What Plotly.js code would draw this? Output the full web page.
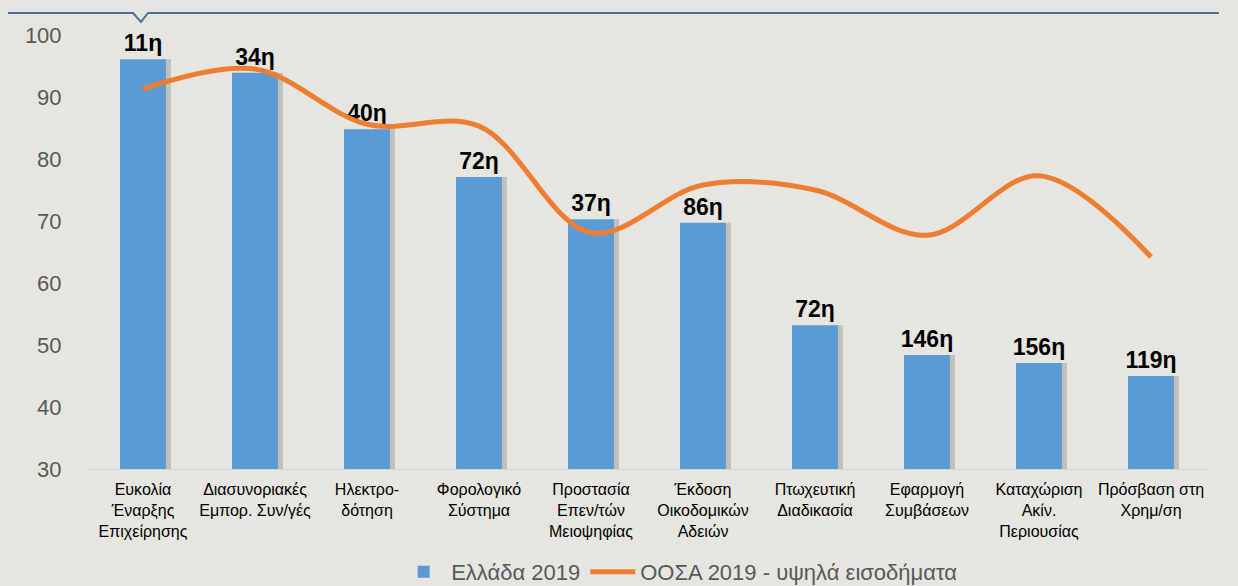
<!DOCTYPE html>
<html>
<head>
<meta charset="utf-8">
<script src="https://cdn.plot.ly/plotly-3.0.1.min.js"></script>
<style>
html,body{margin:0;padding:0;background:#E6E5E0;}
#chart{width:1238px;height:586px;}
</style>
</head>
<body>
<div id="chart"></div>
<script>
const categories = [
  "Ευκολία<br>Έναρξης<br>Επιχείρησης",
  "Διασυνοριακές<br>Εμπορ. Συν/γές",
  "Ηλεκτρο-<br>δότηση",
  "Φορολογικό<br>Σύστημα",
  "Προστασία<br>Επεν/τών<br>Μειοψηφίας",
  "Έκδοση<br>Οικοδομικών<br>Αδειών",
  "Πτωχευτική<br>Διαδικασία",
  "Εφαρμογή<br>Συμβάσεων",
  "Καταχώριση<br>Ακίν.<br>Περιουσίας",
  "Πρόσβαση στη<br>Χρημ/ση"
];
const greece2019 = [96.1, 93.9, 84.8, 77.1, 70.3, 69.7, 53.2, 48.4, 47.1, 45.0];
const oecd2019 = [91.3, 94.5, 85.6, 85.3, 68.1, 75.8, 75.0, 67.7, 77.3, 64.2];
const rankLabels = ["11η", "34η", "40η", "72η", "37η", "86η", "72η", "146η", "156η", "119η"];
const yTicks = [30, 40, 50, 60, 70, 80, 90, 100];
const seriesNames = ["Ελλάδα 2019", "ΟΟΣΑ 2019 - υψηλά εισοδήματα"];

const shadowTrace = {
  type: "bar",
  x: categories,
  y: greece2019,
  showlegend: false,
  hoverinfo: "skip",
  marker: {color: "rgba(70,70,70,0.22)"},
  width: 0.08,
  offset: 0.17
};
const barTrace = {
  type: "bar",
  x: categories,
  y: greece2019,
  name: seriesNames[0],
  marker: {color: "#5B9BD5"},
  width: 0.41,
  offset: -0.205,
  text: rankLabels,
  textposition: "outside",
  constraintext: "none",
  cliponaxis: false,
  textfont: {family: "Liberation Sans, Arial, sans-serif", size: 23, color: "#000000", weight: 700},
  hoverinfo: "x+y"
};
const lineTrace = {
  type: "scatter",
  mode: "lines",
  x: categories,
  y: oecd2019,
  name: seriesNames[1],
  line: {color: "#ED7D31", width: 5, shape: "spline", smoothing: 1.0},
  cliponaxis: false
};

const layout = {
  width: 1238,
  height: 586,
  paper_bgcolor: "#E6E5E0",
  plot_bgcolor: "#E6E5E0",
  margin: {l: 87, r: 31, t: 35, b: 117, autoexpand: false},
  barmode: "overlay",
  showlegend: true,
  legend: {
    orientation: "h",
    xref: "container", yref: "container",
    x: 0.549, xanchor: "center",
    y: 0.024, yanchor: "middle",
    font: {family: "Liberation Sans, Arial, sans-serif", size: 22, color: "#595959"},
    itemwidth: 45,
    bgcolor: "rgba(0,0,0,0)",
    traceorder: "normal"
  },
  xaxis: {
    type: "category",
    automargin: false,
    showgrid: false,
    showline: true,
    linecolor: "#D4D4D0",
    linewidth: 1,
    ticks: "outside",
    ticklen: 6,
    tickcolor: "rgba(0,0,0,0)",
    tickfont: {family: "Liberation Sans Narrow, Arial Narrow, Liberation Sans, sans-serif", size: 16, color: "#000000"},
    zeroline: false
  },
  yaxis: {
    automargin: false,
    range: [30, 100],
    tickvals: yTicks,
    ticks: "outside",
    ticklen: 20,
    tickcolor: "rgba(0,0,0,0)",
    showgrid: false,
    showline: false,
    zeroline: false,
    tickfont: {family: "Liberation Sans, Arial, sans-serif", size: 22, color: "#595959"}
  },
  shapes: [{
    type: "path",
    xref: "paper", yref: "paper",
    path: "M -0.0705,1.0507 L 0.0411,1.0507 L 0.0482,1.0300 L 0.0545,1.0507 L 1.0107,1.0507",
    line: {color: "#4F6F96", width: 2}
  }]
};

Plotly.newPlot("chart", [shadowTrace, barTrace, lineTrace], layout, {displayModeBar: false, staticPlot: true});
</script>
</body>
</html>
